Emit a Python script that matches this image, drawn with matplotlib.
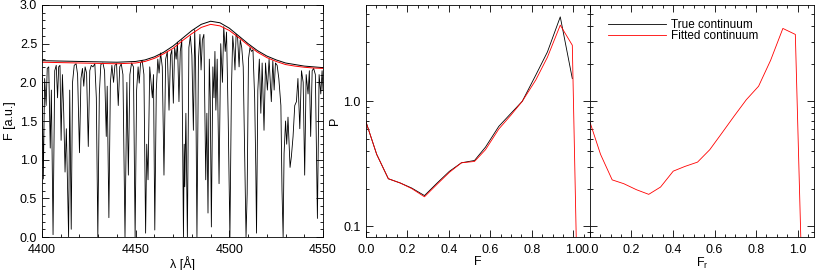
import numpy as np
import matplotlib
matplotlib.use("Agg")
import matplotlib.pyplot as plt
from matplotlib.ticker import MultipleLocator, FixedLocator, NullFormatter, LogLocator

plt.rcParams['font.family'] = ['Liberation Sans', 'DejaVu Sans']
plt.rcParams['font.size'] = 9

# ---- left panel: spectrum (vertices) ----
spec_wl = [4400.0, 4400.7, 4401.4, 4402.2, 4402.8, 4403.6, 4404.4, 4405.0, 4405.9, 4406.8,
           4407.6, 4408.3, 4408.9, 4409.6, 4410.2, 4410.9, 4411.6, 4412.3, 4413.0, 4414.2,
           4414.8, 4415.6, 4416.3, 4417.2, 4418.2, 4419.0, 4420.0, 4420.8, 4421.6, 4422.3,
           4423.0, 4423.8, 4424.7, 4425.5, 4426.3, 4427.2, 4428.2, 4429.0, 4429.8, 4430.6,
           4431.4, 4432.5, 4433.4, 4434.3, 4434.8, 4435.7, 4436.5, 4437.3, 4438.2, 4438.9,
           4439.8, 4440.7, 4441.5, 4442.3, 4443.2, 4444.3, 4445.3, 4446.1, 4446.9, 4447.8,
           4448.8, 4449.7, 4450.5, 4451.3, 4451.9, 4452.6, 4453.5, 4454.4, 4455.3, 4455.9,
           4456.6, 4457.5, 4458.2, 4458.9, 4459.5, 4460.2, 4461.0, 4461.8, 4462.5, 4463.3,
           4464.2, 4465.1, 4466.0, 4466.9, 4467.8, 4468.6, 4469.3, 4470.1, 4470.8, 4471.6,
           4472.3, 4473.1, 4473.8, 4474.6, 4475.5, 4475.9, 4476.2, 4476.8, 4477.6, 4478.4,
           4479.2, 4480.0, 4480.8, 4481.5, 4482.0, 4482.7, 4483.5, 4484.3, 4484.9, 4485.6,
           4486.4, 4487.4, 4488.0, 4488.6, 4489.3, 4489.8, 4490.4, 4491.2, 4491.8, 4492.3,
           4492.8, 4493.5, 4494.5, 4495.4, 4496.3, 4497.0, 4497.8, 4498.5, 4499.4, 4500.3,
           4501.1, 4501.8, 4502.5, 4503.0, 4503.6, 4504.4, 4505.2, 4505.8, 4506.6, 4507.4,
           4508.2, 4508.9, 4509.5, 4510.2, 4511.0, 4511.8, 4512.6, 4513.5, 4514.1, 4514.5,
           4515.2, 4516.0, 4516.8, 4517.5, 4518.5, 4519.3, 4520.3, 4521.2, 4522.4, 4523.2,
           4523.9, 4524.6, 4525.5, 4526.4, 4527.5, 4528.1, 4528.7, 4529.2, 4530.0, 4530.6,
           4531.3, 4532.4, 4533.1, 4534.0, 4534.9, 4535.8, 4536.6, 4537.6, 4538.5, 4539.4,
           4540.2, 4541.0, 4542.0, 4542.7, 4543.4, 4544.2, 4545.0, 4545.9, 4547.0, 4547.9,
           4548.8, 4549.5, 4550.0]
spec_f = [2.10, 0.75, 2.05, 1.70, 2.18, 2.20, 1.15, 1.90, 0.03, 2.15,
          2.22, 1.80, 2.20, 2.22, 1.25, 2.10, 1.60, 0.84, 1.40, 0.00,
          1.90, 0.10, 2.00, 2.22, 2.24, 2.10, 1.09, 2.05, 2.18, 1.95,
          2.20, 2.12, 1.17, 2.15, 2.22, 2.20, 2.24, 1.80, 0.00, 1.85,
          2.23, 2.25, 2.15, 1.30, 1.95, 0.25, 2.00, 2.22, 2.00, 2.22,
          2.24, 1.70, 2.20, 2.24, 2.10, 0.00, 2.00, 0.80, 2.10, 2.25,
          2.20, 0.00, 1.90, 2.20, 1.99, 2.25, 2.28, 2.10, 0.05, 1.20,
          0.74, 2.20, 2.00, 1.80, 2.10, 0.09, 1.90, 2.30, 2.12, 2.38,
          2.20, 0.80, 2.30, 2.40, 1.64, 2.35, 2.42, 1.73, 2.45, 2.30,
          2.52, 1.75, 2.40, 2.55, 0.00, 1.20, 0.65, 1.60, 0.00, 2.45,
          2.60, 2.35, 1.38, 2.68, 2.20, 0.00, 2.30, 2.62, 2.16, 2.55,
          2.62, 0.74, 1.60, 0.31, 2.30, 1.80, 0.13, 2.20, 1.80, 2.40,
          1.64, 2.30, 0.69, 2.50, 2.00, 2.72, 2.40, 2.65, 1.50, 0.00,
          1.90, 2.60, 2.40, 2.16, 2.62, 2.58, 2.20, 2.55, 2.45, 2.20,
          1.00, 0.00, 0.56, 2.30, 2.45, 2.40, 2.42, 1.80, 0.91, 0.05,
          1.90, 2.30, 1.60, 2.25, 1.38, 2.25, 1.90, 2.30, 1.75, 2.28,
          1.90, 2.25, 2.22, 2.05, 1.70, 0.60, 0.00, 1.08, 1.50, 1.20,
          1.55, 0.90, 1.04, 1.30, 1.70, 1.75, 2.05, 1.40, 2.15, 2.00,
          0.80, 2.10, 1.85, 2.15, 1.30, 2.15, 2.18, 2.10, 0.24, 2.10,
          1.85, 2.15, 1.90]

cont_wl = [4400, 4410, 4420, 4430, 4440, 4450, 4455, 4460, 4465, 4470, 4475, 4480,
           4485, 4490, 4495, 4500, 4505, 4510, 4515, 4520, 4525, 4530, 4535, 4540,
           4545, 4550]
cont_true = [2.28, 2.275, 2.27, 2.265, 2.26, 2.27, 2.29, 2.33, 2.39, 2.47, 2.57, 2.67,
             2.75, 2.79, 2.77, 2.70, 2.60, 2.50, 2.41, 2.34, 2.29, 2.25, 2.23, 2.21,
             2.20, 2.19]
cont_fit = [2.26, 2.255, 2.25, 2.245, 2.24, 2.25, 2.27, 2.31, 2.37, 2.44, 2.54, 2.63,
            2.71, 2.75, 2.73, 2.67, 2.58, 2.48, 2.39, 2.32, 2.27, 2.23, 2.21, 2.195,
            2.185, 2.18]

# ---- middle panel: P(F) ----
F_true = [0.0, 0.053, 0.109, 0.166, 0.222, 0.283, 0.343, 0.403, 0.461, 0.524, 0.577,
          0.641, 0.698, 0.754, 0.819, 0.875, 0.937, 0.995]
P_true = [0.695, 0.376, 0.24, 0.222, 0.202, 0.176, 0.221, 0.275, 0.322, 0.336, 0.43,
          0.63, 0.796, 1.0, 1.62, 2.48, 4.74, 1.52]
F_fit = [0.0, 0.053, 0.109, 0.166, 0.222, 0.283, 0.343, 0.403, 0.461, 0.524, 0.577,
         0.641, 0.698, 0.754, 0.819, 0.875, 0.937, 0.995, 1.025]
P_fit = [0.695, 0.376, 0.24, 0.222, 0.200, 0.172, 0.216, 0.27, 0.322, 0.33, 0.41,
         0.60, 0.77, 1.0, 1.48, 2.25, 4.07, 2.81, 0.01]

# ---- right panel: P(F_r) ----
Fr = [0.0, 0.051, 0.107, 0.163, 0.224, 0.283, 0.34, 0.401, 0.457, 0.518, 0.577, 0.633,
      0.694, 0.753, 0.812, 0.87, 0.929, 0.989, 1.03]
P_r = [0.68, 0.376, 0.235, 0.219, 0.196, 0.18, 0.206, 0.276, 0.301, 0.326, 0.41, 0.55,
       0.76, 1.03, 1.32, 2.13, 3.83, 3.43, 0.01]


def style(ax):
    ax.tick_params(which='both', direction='in', top=True, right=True, width=0.6)
    ax.tick_params(which='major', length=5)
    ax.tick_params(which='minor', length=2.5)
    ax.tick_params(axis='x', pad=5)
    for s in ax.spines.values():
        s.set_linewidth(0.6)


fig = plt.figure(figsize=(8.3, 2.7), dpi=100)

ax1 = fig.add_axes([0.0506, 0.1222, 0.3386, 0.8593])
ax1.plot(spec_wl, spec_f, color='black', lw=0.6)
ax1.plot(cont_wl, cont_true, color='black', lw=0.7)
ax1.plot(cont_wl, cont_fit, color='red', lw=0.7)
ax1.set_xlim(4400, 4550)
ax1.set_ylim(0, 3.0)
ax1.xaxis.set_major_locator(MultipleLocator(50))
ax1.xaxis.set_minor_locator(MultipleLocator(10))
ax1.yaxis.set_major_locator(MultipleLocator(0.5))
ax1.yaxis.set_minor_locator(MultipleLocator(0.1))
ax1.yaxis.set_major_formatter(matplotlib.ticker.FormatStrFormatter('%.1f'))
ax1.set_xlabel(u'λ [Å]', labelpad=0)
ax1.set_ylabel('F [a.u.]', labelpad=3)
style(ax1)

ax2 = fig.add_axes([0.4406, 0.1222, 0.2702, 0.8593])
ax2.plot(F_true, P_true, color='black', lw=0.6)
ax2.plot(F_fit, P_fit, color='red', lw=0.6)
ax3 = fig.add_axes([0.7108, 0.1222, 0.2702, 0.8593])
ax3.plot(Fr, P_r, color='red', lw=0.6)

for ax in (ax2, ax3):
    ax.set_yscale('log')
    ax.set_ylim(0.082, 5.9)
    ax.set_xlim(0, 1.08)
    ax.xaxis.set_major_locator(MultipleLocator(0.2))
    ax.xaxis.set_minor_locator(MultipleLocator(0.05))
    ax.xaxis.set_major_formatter(matplotlib.ticker.FormatStrFormatter('%.1f'))
    ax.yaxis.set_major_locator(FixedLocator([0.1, 1.0]))
    ax.yaxis.set_minor_locator(LogLocator(base=10, subs=np.arange(2, 10)))
    ax.yaxis.set_minor_formatter(NullFormatter())
    style(ax)

ax2.set_yticklabels(['0.1', '1.0'])
ax2.set_xlabel('F', labelpad=0)
ax2.set_ylabel('P', labelpad=2)
ax3.set_yticklabels([])
ax3.set_xlabel('F$_\\mathregular{r}$', labelpad=0)

h1, = ax3.plot([], [], color='black', lw=0.6, label='True continuum')
h2, = ax3.plot([], [], color='red', lw=0.6, label='Fitted continuum')
ax3.legend(handles=[h1, h2], loc='upper left', bbox_to_anchor=(0.05, 0.97), frameon=False,
           fontsize=8.5, handlelength=4.9, handletextpad=0.4, labelspacing=-0.05,
           borderaxespad=0.2)

fig.savefig('out.png', dpi=100)
